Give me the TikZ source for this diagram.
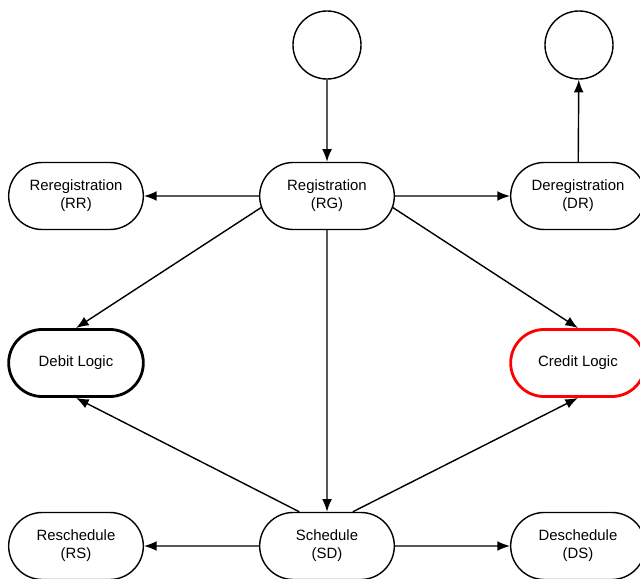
\documentclass[tikz,border=0pt]{standalone}
\usepackage{fontspec}
\setmainfont{Liberation Sans}
\usetikzlibrary{shapes.misc,arrows.meta}
\begin{document}
\begin{tikzpicture}[x=0.025cm, y=-0.025cm, line width=1pt,
    >={Latex[length=9pt,width=7pt]},
    state/.style={draw, rounded rectangle, minimum width=3.6cm, minimum height=1.675cm,
      align=center, font=\fontsize{10.6}{12.8}\selectfont},
    term/.style={draw, circle, minimum size=1.7cm}]
      \useasboundingbox (0,0) rectangle (640,579);
      \clip (0,0) rectangle (640,579);

      \node[term] (start) at (327, 45) {};
      \node[term] (stop) at (579, 45) {};

      \node[state] (rg) at (327, 196) {Registration\\(RG)};
      \node[state] (rr) at (76, 196) {Reregistration\\(RR)};
      \node[state] (dr) at (578, 196) {Deregistration\\(DR)};

      \node[state, line width=2pt] (debit) at (76, 363) {Debit Logic};
      \node[state, line width=2pt, draw=red] (credit) at (578, 363) {Credit Logic};

      \node[state] (sd) at (327, 546) {Schedule\\(SD)};
      \node[state] (rs) at (76, 546) {Reschedule\\(RS)};
      \node[state] (ds) at (578, 546) {Deschedule\\(DS)};

      \draw[->] (start) -- (rg);
      \draw[->] (rg) -- (rr);
      \draw[->] (rg) -- (dr);
      \draw[->] (dr) -- (stop);

      \draw[->] (rg.190) -- (debit.north);
      \draw[->] (rg.350) -- (credit.north);
      \draw[->] (rg) -- (sd);

      \draw[->] (sd.129) -- (debit.south);
      \draw[->] (sd.53) -- (credit.south);
      \draw[->] (sd) -- (rs);
      \draw[->] (sd) -- (ds);
    \end{tikzpicture}
\end{document}
